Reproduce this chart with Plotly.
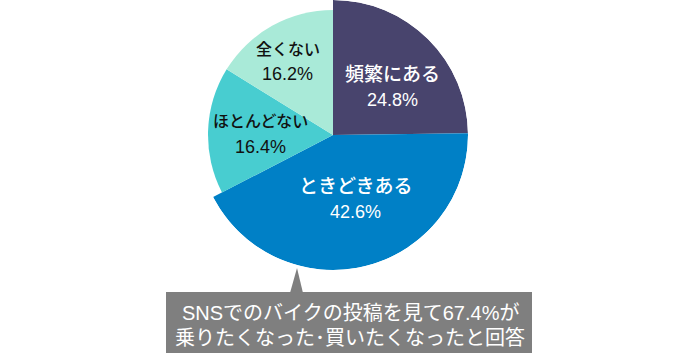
import math
import plotly.graph_objects as go

# ---- data ----
categories = ["頻繁にある", "ときどきある", "ほとんどない", "全くない"]
percents = [24.8, 42.6, 16.4, 16.2]
callout_lines = ["SNSでのバイクの投稿を見て67.4%が", "乗りたくなった･買いたくなったと回答"]

# ---- style ----
colors = ["#48446d", "#0080c6", "#48cdd0", "#a9ead8"]
text_colors = ["#ffffff", "#ffffff", "#111111", "#111111"]
name_sizes = [19, 19, 16, 16]
pct_sizes = [18, 18, 18, 18]
slice_r = [135, 135, 125, 125]       # outer radius per slice
label_r = [76, 68, 73, 86]           # radial position of label block
label_dtheta = [6.6, -5.3, -1.4, -2.4]  # angular nudge of label block (deg)
LINE_GAP = 25
FONT = "Liberation Sans, Arial, Noto Sans CJK JP, sans-serif"

W, H = 700, 353
CX, CY, R = 333, 135, 135

# angular geometry from data
widths = [p * 3.6 for p in percents]
mids = []
acc = 0.0
for w in widths:
    mids.append(acc + w / 2)
    acc += w

fig = go.Figure()
fig.add_trace(go.Barpolar(
    r=slice_r, theta=mids, width=widths,
    marker=dict(color=colors, line=dict(width=0)),
    hoverinfo="skip", showlegend=False,
))

fig.update_layout(
    width=W, height=H,
    margin=dict(l=0, r=0, t=0, b=0),
    paper_bgcolor="white", plot_bgcolor="white",
    polar=dict(
        domain=dict(x=[(CX - R) / W, (CX + R) / W],
                    y=[(H - CY - R) / H, (H - CY + R) / H]),
        bgcolor="rgba(0,0,0,0)",
        radialaxis=dict(range=[0, R], visible=False, showgrid=False),
        angularaxis=dict(rotation=90, direction="clockwise", visible=False,
                         showgrid=False),
    ),
)

# slice labels (placed from slice angles)
for c, p, m, lr, dt, tc, ns, ps in zip(categories, percents, mids, label_r,
                                        label_dtheta, text_colors, name_sizes, pct_sizes):
    a = math.radians(m + dt)
    px = CX + lr * math.sin(a)
    py = CY - lr * math.cos(a)
    fig.add_annotation(xref="paper", yref="paper", x=px / W, y=(H - (py - LINE_GAP / 2)) / H,
                       text=c, showarrow=False, xanchor="center", yanchor="middle",
                       font=dict(color=tc, size=ns, family=FONT, weight=500))
    fig.add_annotation(xref="paper", yref="paper", x=px / W, y=(H - (py + LINE_GAP / 2)) / H,
                       text=f"{p:.1f}%", showarrow=False, xanchor="center", yanchor="middle",
                       font=dict(color=tc, size=ps, family=FONT))

# callout box with pointer
gray = "#7f7f7f"
fig.add_shape(type="rect", xref="paper", yref="paper",
              x0=166 / W, x1=532 / W, y0=0, y1=(H - 292) / H,
              fillcolor=gray, line=dict(width=0), layer="above")
fig.add_shape(type="path", xref="paper", yref="paper",
              path=f"M {290/W} {(H-293)/H} L {297/W} {(H-268)/H} L {303/W} {(H-293)/H} Z",
              fillcolor=gray, line=dict(width=0), layer="above")
for i, line in enumerate(callout_lines):
    fig.add_annotation(xref="paper", yref="paper", x=350 / W, y=(H - (313 + 25 * i)) / H,
                       text=line, showarrow=False,
                       font=dict(color="white", size=20, family=FONT),
                       xanchor="center", yanchor="middle")

fig.write_html("out.html")
